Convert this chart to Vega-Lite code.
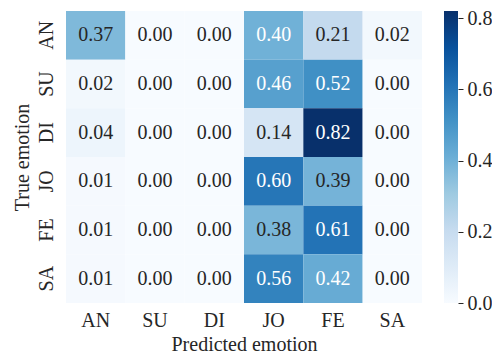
{
  "$schema": "https://vega.github.io/schema/vega-lite/v6.json",
  "padding": {"left": 12, "top": 8, "right": 0, "bottom": 0},
  "background": "white",
  "bounds": "flush",
  "spacing": 22,
  "config": {
    "view": {"stroke": null},
    "font": "Liberation Serif",
    "axis": {"domain": false, "ticks": false, "grid": false, "labelFont": "Liberation Serif", "titleFont": "Liberation Serif", "labelFontSize": 20, "titleFontSize": 20, "labelColor": "#262626", "titleColor": "#262626", "titleFontWeight": "normal"}
  },
  "hconcat": [
    {
      "width": 356,
      "height": 292,
      "data": {
        "values": [
          {"t": "AN", "p": "AN", "v": 0.37}, {"t": "AN", "p": "SU", "v": 0.0}, {"t": "AN", "p": "DI", "v": 0.0}, {"t": "AN", "p": "JO", "v": 0.40}, {"t": "AN", "p": "FE", "v": 0.21}, {"t": "AN", "p": "SA", "v": 0.02},
          {"t": "SU", "p": "AN", "v": 0.02}, {"t": "SU", "p": "SU", "v": 0.0}, {"t": "SU", "p": "DI", "v": 0.0}, {"t": "SU", "p": "JO", "v": 0.46}, {"t": "SU", "p": "FE", "v": 0.52}, {"t": "SU", "p": "SA", "v": 0.0},
          {"t": "DI", "p": "AN", "v": 0.04}, {"t": "DI", "p": "SU", "v": 0.0}, {"t": "DI", "p": "DI", "v": 0.0}, {"t": "DI", "p": "JO", "v": 0.14}, {"t": "DI", "p": "FE", "v": 0.82}, {"t": "DI", "p": "SA", "v": 0.0},
          {"t": "JO", "p": "AN", "v": 0.01}, {"t": "JO", "p": "SU", "v": 0.0}, {"t": "JO", "p": "DI", "v": 0.0}, {"t": "JO", "p": "JO", "v": 0.60}, {"t": "JO", "p": "FE", "v": 0.39}, {"t": "JO", "p": "SA", "v": 0.0},
          {"t": "FE", "p": "AN", "v": 0.01}, {"t": "FE", "p": "SU", "v": 0.0}, {"t": "FE", "p": "DI", "v": 0.0}, {"t": "FE", "p": "JO", "v": 0.38}, {"t": "FE", "p": "FE", "v": 0.61}, {"t": "FE", "p": "SA", "v": 0.0},
          {"t": "SA", "p": "AN", "v": 0.01}, {"t": "SA", "p": "SU", "v": 0.0}, {"t": "SA", "p": "DI", "v": 0.0}, {"t": "SA", "p": "JO", "v": 0.56}, {"t": "SA", "p": "FE", "v": 0.42}, {"t": "SA", "p": "SA", "v": 0.0}
        ]
      },
      "encoding": {
        "x": {"field": "p", "type": "nominal", "sort": ["AN", "SU", "DI", "JO", "FE", "SA"], "scale": {"paddingInner": 0, "paddingOuter": 0}, "axis": {"title": "Predicted emotion", "labelAngle": 0, "labelPadding": 7, "titlePadding": 4}},
        "y": {"field": "t", "type": "nominal", "sort": ["AN", "SU", "DI", "JO", "FE", "SA"], "scale": {"paddingInner": 0, "paddingOuter": 0}, "axis": {"title": "True emotion", "labelAngle": 270, "labelPadding": 10, "titlePadding": 4}}
      },
      "layer": [
        {
          "mark": {"type": "rect", "strokeWidth": 0},
          "encoding": {
            "color": {
              "field": "v", "type": "quantitative",
              "scale": {"domain": [0, 0.1025, 0.205, 0.3075, 0.41, 0.5125, 0.615, 0.7175, 0.82], "range": ["#f7fbff", "#deebf7", "#c6dbef", "#9ecae1", "#6baed6", "#4292c6", "#2171b5", "#08519c", "#08306b"], "interpolate": "rgb"},
              "legend": null
            }
          }
        },
        {
          "mark": {"type": "text", "fontSize": 20, "font": "Liberation Serif"},
          "encoding": {
            "text": {"field": "v", "type": "quantitative", "format": ".2f"},
            "color": {"condition": {"test": "datum.v > 0.395", "value": "white"}, "value": "#262626"}
          }
        }
      ]
    },
    {
      "width": 14,
      "height": 292,
      "data": {"values": [{"lo": 0, "hi": 0.82}]},
      "mark": {
        "type": "rect",
        "strokeWidth": 0,
        "color": {"gradient": "linear", "x1": 0, "y1": 1, "x2": 0, "y2": 0, "stops": [
          {"offset": 0, "color": "#f7fbff"}, {"offset": 0.125, "color": "#deebf7"}, {"offset": 0.25, "color": "#c6dbef"}, {"offset": 0.375, "color": "#9ecae1"}, {"offset": 0.5, "color": "#6baed6"}, {"offset": 0.625, "color": "#4292c6"}, {"offset": 0.75, "color": "#2171b5"}, {"offset": 0.875, "color": "#08519c"}, {"offset": 1, "color": "#08306b"}
        ]}
      },
      "encoding": {
        "y": {"field": "lo", "type": "quantitative", "scale": {"domain": [0, 0.82], "nice": false, "zero": false}, "axis": {"orient": "right", "title": null, "values": [0, 0.2, 0.4, 0.6, 0.8], "format": ".1f", "ticks": true, "tickSize": 5, "tickWidth": 1, "tickColor": "#262626", "labelPadding": 4, "domain": false, "grid": false, "labelBaseline": "middle"}},
        "y2": {"field": "hi"}
      }
    }
  ]
}
